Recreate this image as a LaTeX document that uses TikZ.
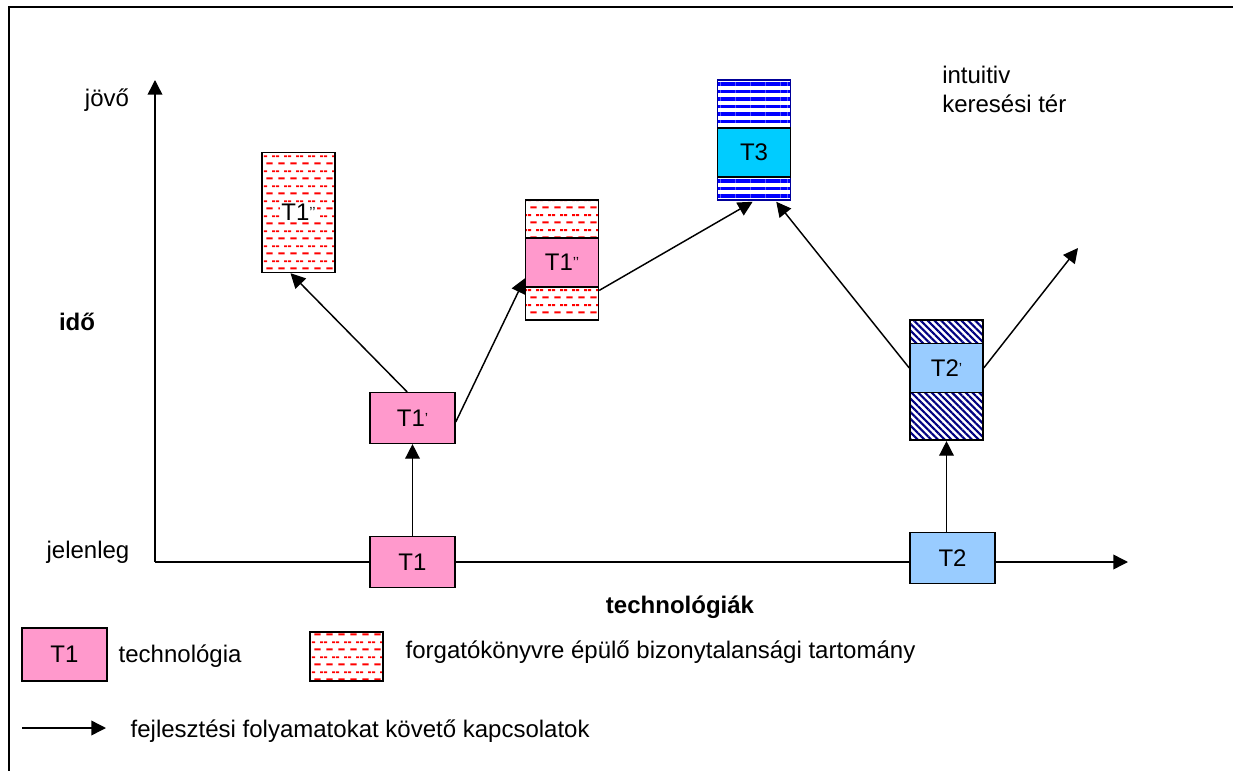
\documentclass[tikz,border=0pt]{standalone}
\usepackage{fontspec}
\setmainfont{Liberation Sans}
\usetikzlibrary{arrows.meta,patterns,patterns.meta}

\definecolor{techpink}{HTML}{FF99CC}
\definecolor{techcyan}{HTML}{00CCFF}
\definecolor{techblue}{HTML}{99CCFF}
\definecolor{hatchnavy}{HTML}{000080}

\pgfdeclarepatternformonly{reddashes}{\pgfqpoint{0pt}{0pt}}{\pgfqpoint{9pt}{11pt}}{\pgfqpoint{9pt}{11pt}}{%
  \pgfsetlinewidth{1.4pt}
  \pgfpathmoveto{\pgfqpoint{2pt}{2.75pt}}\pgfpathlineto{\pgfqpoint{7pt}{2.75pt}}
  \pgfpathmoveto{\pgfqpoint{6.5pt}{8.25pt}}\pgfpathlineto{\pgfqpoint{9pt}{8.25pt}}
  \pgfpathmoveto{\pgfqpoint{0pt}{8.25pt}}\pgfpathlineto{\pgfqpoint{2.5pt}{8.25pt}}
  \pgfusepath{stroke}}

\newcommand{\sprime}[1]{\raisebox{0.25ex}{\fontsize{11}{11}\selectfont #1}}

\begin{document}
\begin{tikzpicture}[x=0.75pt,y=-0.75pt,
		font=\fontsize{18}{22}\selectfont,
		techbox/.style={draw,line width=1.1pt,inner sep=0pt,minimum width=63.75pt,minimum height=38pt},
		rangebox/.style={draw,line width=1.1pt,inner sep=0pt,minimum width=54.75pt,minimum height=90pt},
		innerbox/.style={draw,line width=1.1pt,inner sep=0pt,minimum width=54.75pt,minimum height=36.75pt},
		scenario/.style={pattern=reddashes,pattern color=red},
		devarrow/.style={line width=1.1pt,-{Triangle[length=11pt,width=11pt]}}]
		\useasboundingbox (0,0) rectangle (1233,771);
		% frame
		\draw[line width=1.5pt] (9,771) -- (9,7) -- (1233,7);
		% axes
		\coordinate (O) at (155,562);
		\coordinate (Y) at (155,80);
		\coordinate (X) at (1128,562);
		\draw[devarrow] (O) -- (Y);
		\draw[devarrow] (O) -- (X);
		\node (future) at (107,100) {jövő};
		\node[font=\fontsize{18}{22}\selectfont\bfseries] (time) at (77,322) {idő};
		\node (now) at (88,552) {jelenleg};
		\node[font=\fontsize{18}{22}\selectfont\bfseries] (techs) at (680,607) {technológiák};
		\node[anchor=north west,align=left,inner sep=0pt] (intuit) at (942,66) {intuitiv\\keresési tér};
		% technologies
		\node[techbox,fill=techpink] (t1) at (412.5,562) {T1};
		\node[techbox,fill=techpink] (t1p) at (412.5,418) {T1\sprime{’}};
		\node[rangebox,scenario] (t1pp) at (298.5,212.5) {};
		\node[fill=white,inner sep=1pt] (t1ppl) at (t1pp) {T1\sprime{’’}};
		\node[rangebox,scenario] (t1q) at (562,260) {};
		\node[innerbox,fill=techpink] (t1qin) at (562,262.5) {T1\sprime{’’}};
		\node[rangebox,draw=blue!60!black,pattern={Lines[angle=0,distance=5.6pt,line width=2.6pt]},pattern color=blue] (t3) at (754,140) {};
		\node[innerbox,fill=techcyan] (t3in) at (754,152.5) {T3};
		\node[techbox,fill=techblue] (t2) at (952.5,558) {T2};
		\node[rangebox,pattern={Lines[angle=-45,distance=3.6pt,line width=1.6pt]},pattern color=hatchnavy] (t2p) at (946.5,380) {};
		\node[innerbox,fill=techblue] (t2pin) at (946.5,368) {T2\sprime{’}};
		\coordinate (free) at (1078,248);
		% development links
		\draw[devarrow] (t1) -- (t1p);
		\draw[devarrow] ([xshift=-4pt]t1p.north) -- ([xshift=-6pt]t1pp.south);
		\draw[devarrow] ([yshift=-3pt]t1p.east) -- ([yshift=7pt]t1qin.south west);
		\draw[devarrow] ([yshift=-2pt]t1qin.south east) -- ([xshift=-1pt]t3.south);
		\draw[devarrow] (t2pin.west) -- ([xshift=-12pt]t3.south east);
		\draw[devarrow] (t2pin.east) -- (free);
		\draw[devarrow] ([xshift=-4.5pt]t2.north) -- (t2p.south);
		% legend
		\node[techbox,fill=techpink,minimum height=39.75pt] (legtech) at (64.5,654.5) {T1};
		\node[anchor=west] (legtechtxt) at (114,656) {technológia};
		\node[draw,line width=1.1pt,scenario,inner sep=0pt,minimum width=54.75pt,minimum height=36.75pt] (legrange) at (346.5,656.5) {};
		\node[anchor=west] (legrangetxt) at (401,652) {forgatókönyvre épülő bizonytalansági tartomány};
		\coordinate (arra) at (22,728);
		\coordinate (arrb) at (106,728);
		\draw[devarrow] (arra) -- (arrb);
		\node[anchor=west] (legarrtxt) at (126,731) {fejlesztési folyamatokat követő kapcsolatok};
	\end{tikzpicture}
\end{document}
